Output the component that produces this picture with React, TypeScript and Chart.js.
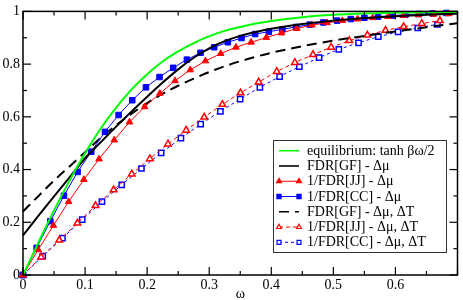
import { useEffect, useRef } from "react";
import { Chart, registerables } from "chart.js";
Chart.register(...registerables);

const FONT = "'Liberation Serif', 'DejaVu Serif', 'Times New Roman', serif";

// Continuous curves (omega grid)
const lineOmega = [0, 0.025, 0.05, 0.075, 0.1, 0.125, 0.15, 0.175, 0.2, 0.225, 0.25, 0.275, 0.3, 0.325, 0.35, 0.375, 0.4, 0.45, 0.5, 0.55, 0.6, 0.65, 0.7];
const equilibrium = [0, 0.124, 0.245, 0.358, 0.462, 0.555, 0.635, 0.704, 0.762, 0.81, 0.848, 0.88, 0.905, 0.926, 0.941, 0.954, 0.964, 0.978, 0.987, 0.992, 0.995, 0.997, 0.998];
const fdrGfMu = [0.15, 0.225, 0.298, 0.37, 0.443, 0.503, 0.563, 0.62, 0.676, 0.73, 0.78, 0.824, 0.86, 0.887, 0.907, 0.922, 0.934, 0.952, 0.965, 0.975, 0.982, 0.987, 0.991];
const fdrGfMuT = [0.241, 0.3, 0.358, 0.412, 0.466, 0.52, 0.568, 0.612, 0.652, 0.688, 0.718, 0.745, 0.77, 0.792, 0.811, 0.828, 0.843, 0.868, 0.889, 0.907, 0.924, 0.94, 0.955];

// 1/FDR[JJ] - Δμ
const jjMuOmega = [0, 0.0245, 0.049, 0.0735, 0.098, 0.1225, 0.147, 0.1715, 0.196, 0.2205, 0.245, 0.2695, 0.294, 0.3185, 0.343, 0.3675, 0.392, 0.4165, 0.441, 0.4655, 0.49, 0.5145, 0.539, 0.5635, 0.588, 0.6125, 0.637, 0.6615, 0.686];
const jjMu = [0, 0.096, 0.188, 0.278, 0.362, 0.44, 0.512, 0.58, 0.638, 0.689, 0.737, 0.778, 0.812, 0.84, 0.864, 0.883, 0.901, 0.918, 0.935, 0.948, 0.957, 0.965, 0.971, 0.976, 0.98, 0.984, 0.987, 0.989, 0.991];

// 1/FDR[CC] - Δμ
const ccMuOmega = [0, 0.022, 0.044, 0.066, 0.088, 0.11, 0.132, 0.154, 0.176, 0.198, 0.22, 0.242, 0.264, 0.286, 0.308, 0.33, 0.352, 0.374, 0.396, 0.418, 0.44, 0.462, 0.484, 0.506, 0.528, 0.55, 0.572, 0.594, 0.616, 0.638, 0.66, 0.682];
const ccMu = [0, 0.103, 0.204, 0.301, 0.391, 0.468, 0.543, 0.607, 0.663, 0.712, 0.751, 0.786, 0.817, 0.843, 0.864, 0.883, 0.899, 0.914, 0.923, 0.932, 0.941, 0.95, 0.958, 0.965, 0.971, 0.976, 0.98, 0.984, 0.987, 0.99, 0.992, 0.994];

// 1/FDR[JJ] - Δμ, ΔT
const jjMuTOmega = [0, 0.0292, 0.0584, 0.0876, 0.1168, 0.146, 0.1752, 0.2044, 0.2336, 0.2628, 0.292, 0.3212, 0.3504, 0.3796, 0.4088, 0.438, 0.4672, 0.4964, 0.5256, 0.5548, 0.584, 0.6132, 0.6424, 0.6716];
const jjMuT = [0, 0.068, 0.132, 0.197, 0.263, 0.323, 0.383, 0.441, 0.497, 0.549, 0.599, 0.647, 0.691, 0.732, 0.772, 0.806, 0.836, 0.864, 0.889, 0.91, 0.928, 0.942, 0.954, 0.965];

// 1/FDR[CC] - Δμ, ΔT
const ccMuTOmega = [0, 0.0318, 0.0636, 0.0954, 0.1272, 0.159, 0.1908, 0.2226, 0.2544, 0.2862, 0.318, 0.3498, 0.3816, 0.4134, 0.4452, 0.477, 0.5088, 0.5406, 0.5724, 0.6042, 0.636, 0.6678];
const ccMuT = [0, 0.072, 0.14, 0.21, 0.278, 0.342, 0.404, 0.463, 0.519, 0.572, 0.621, 0.667, 0.712, 0.753, 0.79, 0.825, 0.856, 0.881, 0.904, 0.922, 0.937, 0.951];

const seriesLabels = [
  "equilibrium: tanh βω/2",
  "FDR[GF] - Δμ",
  "1/FDR[JJ] - Δμ",
  "1/FDR[CC] - Δμ",
  "FDR[GF] - Δμ, ΔT",
  "1/FDR[JJ] - Δμ, ΔT",
  "1/FDR[CC] - Δμ, ΔT",
];

const xTickLabels = [0, 0.1, 0.2, 0.3, 0.4, 0.5, 0.6];
const yTickLabels = [0, 0.2, 0.4, 0.6, 0.8, 1];
const xMajorTicks = [0, 0.1, 0.2, 0.3, 0.4, 0.5, 0.6, 0.7];
const xMinorTicks = [0.05, 0.15, 0.25, 0.35, 0.45, 0.55, 0.65];
const yMajorTicks = [0, 0.2, 0.4, 0.6, 0.8, 1];
const yMinorTicks = [0.1, 0.3, 0.5, 0.7, 0.9];

const zip = (xs: number[], ys: number[]) => xs.map((x, i) => ({ x, y: ys[i] }));

const framePlugin = {
  id: "frameTicks",
  afterDraw(chart: any) {
    const ctx = chart.ctx;
    const { left, right, top, bottom } = chart.chartArea;
    const xs = chart.scales.x;
    const ys = chart.scales.y;
    ctx.save();
    ctx.strokeStyle = "#000";
    ctx.lineWidth = 1.2;
    const tick = (x1: number, y1: number, x2: number, y2: number) => {
      ctx.beginPath();
      ctx.moveTo(x1, y1);
      ctx.lineTo(x2, y2);
      ctx.stroke();
    };
    const MAJ = 8, MIN = 4;
    xMajorTicks.forEach((v) => {
      const p = xs.getPixelForValue(v);
      tick(p, bottom, p, bottom - MAJ);
      tick(p, top, p, top + MAJ);
    });
    xMinorTicks.forEach((v) => {
      const p = xs.getPixelForValue(v);
      tick(p, bottom, p, bottom - MIN);
      tick(p, top, p, top + MIN);
    });
    yMajorTicks.forEach((v) => {
      const p = ys.getPixelForValue(v);
      tick(left, p, left + MAJ, p);
      tick(right, p, right - MAJ, p);
    });
    yMinorTicks.forEach((v) => {
      const p = ys.getPixelForValue(v);
      tick(left, p, left + MIN, p);
      tick(right, p, right - MIN, p);
    });
    ctx.lineWidth = 1.5;
    ctx.strokeRect(left, top, right - left, bottom - top);

    // legend box
    const bx = 273, by = 140, bw = 173, bh = 112;
    ctx.fillStyle = "#fff";
    ctx.fillRect(bx, by, bw, bh);
    ctx.lineWidth = 1;
    ctx.strokeStyle = "#333";
    ctx.strokeRect(bx + 0.5, by + 0.5, bw, bh);
    const rowH = 15.27;
    chart.data.datasets.forEach((ds: any, i: number) => {
      const cy = by + 10.7 + i * rowH;
      const x1 = 279, x2 = 299;
      ctx.save();
      ctx.strokeStyle = ds.borderColor;
      ctx.lineWidth = Math.min(ds.borderWidth, 1.6);
      ctx.setLineDash(ds.borderDash || []);
      ctx.beginPath();
      ctx.moveTo(x1, cy);
      ctx.lineTo(x2, cy);
      ctx.stroke();
      ctx.setLineDash([]);
      if (ds.pointRadius > 0) {
        [x1, x2].forEach((px) => {
          const r = ds.pointRadius * 0.75;
          ctx.beginPath();
          if (ds.pointStyle === "triangle") {
            ctx.moveTo(px, cy - r);
            ctx.lineTo(px + r * 0.866, cy + r * 0.5);
            ctx.lineTo(px - r * 0.866, cy + r * 0.5);
            ctx.closePath();
          } else {
            const s = r * 0.707;
            ctx.rect(px - s, cy - s, 2 * s, 2 * s);
          }
          ctx.fillStyle = ds.pointBackgroundColor;
          ctx.fill();
          ctx.lineWidth = 1.2;
          ctx.strokeStyle = ds.pointBorderColor;
          ctx.stroke();
        });
      }
      ctx.restore();
      ctx.fillStyle = "#000";
      ctx.font = `14px ${FONT}`;
      ctx.textBaseline = "middle";
      ctx.textAlign = "left";
      ctx.fillText(ds.label, 307, cy + 0.5);
    });
    ctx.restore();
  },
};

export default function App() {
  const ref = useRef<HTMLCanvasElement>(null);
  useEffect(() => {
    if (!ref.current) return;
    const chart = new Chart(ref.current, {
      type: "scatter",
      data: {
        datasets: [
          {
            label: seriesLabels[0],
            data: zip(lineOmega, equilibrium),
            showLine: true,
            borderColor: "#00ff00",
            backgroundColor: "#00ff00",
            borderWidth: 2,
            pointRadius: 0,
            cubicInterpolationMode: "monotone",
          },
          {
            label: seriesLabels[1],
            data: zip(lineOmega, fdrGfMu),
            showLine: true,
            borderColor: "#000",
            backgroundColor: "#000",
            borderWidth: 2,
            pointRadius: 0,
            cubicInterpolationMode: "monotone",
          },
          {
            label: seriesLabels[2],
            data: zip(jjMuOmega, jjMu),
            showLine: true,
            borderColor: "#ff0000",
            backgroundColor: "#ff0000",
            borderWidth: 1,
            pointStyle: "triangle",
            pointRadius: 3.8,
            pointBackgroundColor: "#ff0000",
            pointBorderColor: "#ff0000",
            pointBorderWidth: 1,
          },
          {
            label: seriesLabels[3],
            data: zip(ccMuOmega, ccMu),
            showLine: true,
            borderColor: "#0000ff",
            backgroundColor: "#0000ff",
            borderWidth: 1,
            pointStyle: "rect",
            pointRadius: 3.9,
            pointBackgroundColor: "#0000ff",
            pointBorderColor: "#0000ff",
            pointBorderWidth: 1,
          },
          {
            label: seriesLabels[4],
            data: zip(lineOmega, fdrGfMuT),
            showLine: true,
            borderColor: "#000",
            backgroundColor: "#000",
            borderWidth: 2,
            borderDash: [10, 6],
            pointRadius: 0,
            cubicInterpolationMode: "monotone",
          },
          {
            label: seriesLabels[5],
            data: zip(jjMuTOmega, jjMuT),
            showLine: true,
            borderColor: "#ff0000",
            backgroundColor: "#ff0000",
            borderWidth: 1,
            borderDash: [4, 3],
            pointStyle: "triangle",
            pointRadius: 3.8,
            pointBackgroundColor: "#ffffff",
            pointBorderColor: "#ff0000",
            pointBorderWidth: 1.5,
          },
          {
            label: seriesLabels[6],
            data: zip(ccMuTOmega, ccMuT),
            showLine: true,
            borderColor: "#0000ff",
            backgroundColor: "#0000ff",
            borderWidth: 1,
            borderDash: [3, 3],
            pointStyle: "rect",
            pointRadius: 3.7,
            pointBackgroundColor: "#ffffff",
            pointBorderColor: "#0000ff",
            pointBorderWidth: 1.5,
          },
        ],
      },
      options: {
        animation: false,
        responsive: false,
        maintainAspectRatio: false,
        layout: { padding: { top: 5, right: 3, left: 0, bottom: 0 } },
        plugins: { legend: { display: false }, tooltip: { enabled: false } },
        datasets: { scatter: { clip: false } } as any,
        scales: {
          x: {
            type: "linear",
            min: 0,
            max: 0.7,
            grid: { display: false, drawTicks: false },
            border: { display: false },
            afterBuildTicks: (s: any) => {
              s.ticks = xTickLabels.map((v) => ({ value: v }));
            },
            afterFit: (s: any) => {
              s.height = 25;
            },
            ticks: {
              color: "#000",
              padding: 2,
              maxRotation: 0,
              autoSkip: false,
              font: { family: FONT, size: 14 },
              callback: (v: any) => String(v),
            },
            title: {
              display: true,
              text: "ω",
              color: "#000",
              padding: 0,
              font: { family: FONT, size: 14, lineHeight: 0.8 },
            },
          },
          y: {
            type: "linear",
            min: 0,
            max: 1,
            grid: { display: false, drawTicks: false },
            border: { display: false },
            afterBuildTicks: (s: any) => {
              s.ticks = yTickLabels.map((v) => ({ value: v }));
            },
            afterFit: (s: any) => {
              s.width = 23;
            },
            ticks: {
              color: "#000",
              padding: 3,
              autoSkip: false,
              font: { family: FONT, size: 14 },
              callback: (v: any) => String(v),
            },
          },
        },
      },
      plugins: [framePlugin],
    });
    return () => chart.destroy();
  }, []);
  return (
    <div style={{ position: "fixed", left: 0, top: 0, width: 463, height: 300, background: "#fff" }}>
      <canvas ref={ref} width={463} height={300} style={{ display: "block" }} />
    </div>
  );
}
